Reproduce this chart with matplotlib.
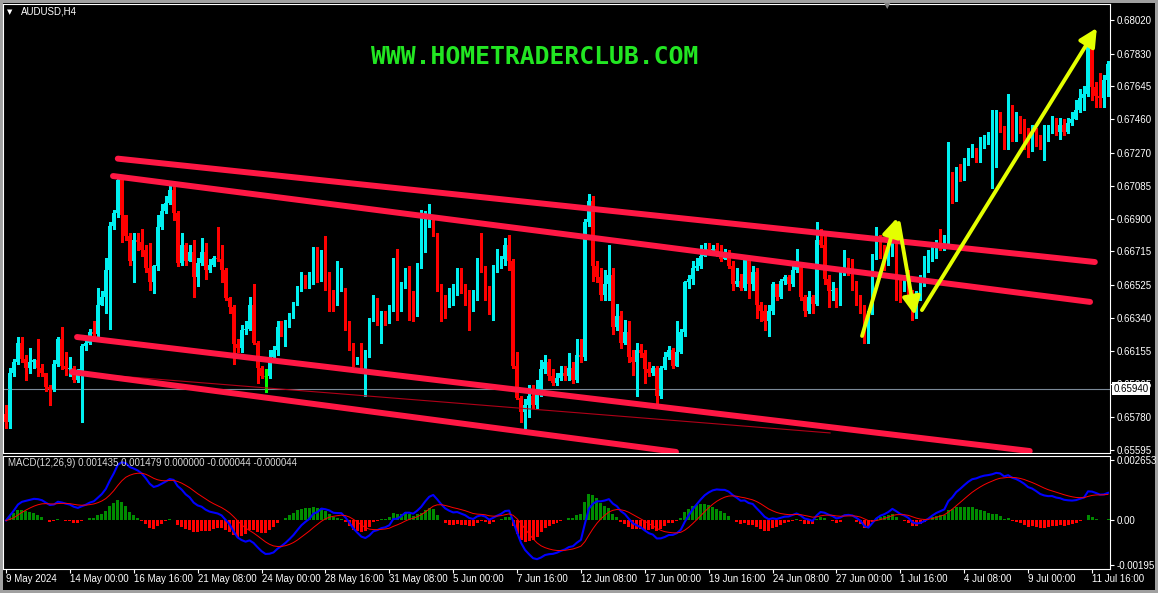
import matplotlib
matplotlib.use("Agg")
from matplotlib import pyplot as plt
from matplotlib.patches import Rectangle
from matplotlib.transforms import blended_transform_factory
import numpy as np

plt.rcParams['font.family'] = ['Liberation Sans', 'DejaVu Sans']

# AUDUSD H4, 277 bars, open of each bar = previous close
first_open = 0.6580
close = [
    0.6575, 0.6603, 0.6609, 0.6620, 0.6611, 0.6606, 0.6609, 0.6610, 0.6606, 0.6603,
    0.6595, 0.6594, 0.6608, 0.6622, 0.6607, 0.6605, 0.6606, 0.6599, 0.6603, 0.6618,
    0.6620, 0.6626, 0.6625, 0.6641, 0.6646, 0.6661, 0.6686, 0.6693, 0.6712, 0.6692,
    0.6680, 0.6666, 0.6678, 0.6677, 0.6672, 0.6662, 0.6654, 0.6663, 0.6685, 0.6694,
    0.6699, 0.6706, 0.6693, 0.6665, 0.6675, 0.6666, 0.6671, 0.6657, 0.6665, 0.6671,
    0.6661, 0.6664, 0.6668, 0.6667, 0.6661, 0.6645, 0.6640, 0.6619, 0.6617, 0.6627,
    0.6628, 0.6641, 0.6620, 0.6606, 0.6601, 0.6601, 0.6612, 0.6616, 0.6629, 0.6626,
    0.6630, 0.6636, 0.6641, 0.6650, 0.6654, 0.6652, 0.6654, 0.6669, 0.6656, 0.6669,
    0.6651, 0.6648, 0.6641, 0.6650, 0.6651, 0.6629, 0.6618, 0.6609, 0.6610, 0.6606,
    0.6614, 0.6633, 0.6644, 0.6632, 0.6637, 0.6633, 0.6640, 0.6665, 0.6640, 0.6653,
    0.6661, 0.6647, 0.6642, 0.6663, 0.6672, 0.6686, 0.6689, 0.6681, 0.6650, 0.6644,
    0.6643, 0.6649, 0.6650, 0.6660, 0.6650, 0.6649, 0.6641, 0.6647, 0.6666, 0.6661,
    0.6650, 0.6638, 0.6662, 0.6666, 0.6667, 0.6675, 0.6666, 0.6607, 0.6589, 0.6581,
    0.6585, 0.6590, 0.6585, 0.6594, 0.6605, 0.6609, 0.6601, 0.6597, 0.6600, 0.6603,
    0.6601, 0.6606, 0.6599, 0.6613, 0.6612, 0.6688, 0.6700, 0.6663, 0.6657, 0.6647,
    0.6653, 0.6658, 0.6629, 0.6635, 0.6620, 0.6626, 0.6612, 0.6609, 0.6616, 0.6614,
    0.6605, 0.6603, 0.6606, 0.6590, 0.6606, 0.6612, 0.6616, 0.6607, 0.6615, 0.6626,
    0.6654, 0.6656, 0.6662, 0.6663, 0.6669, 0.6673, 0.6672, 0.6673, 0.6671, 0.6667,
    0.6670, 0.6663, 0.6653, 0.6655, 0.6651, 0.6667, 0.6653, 0.6660, 0.6641, 0.6638,
    0.6632, 0.6638, 0.6653, 0.6646, 0.6655, 0.6657, 0.6653, 0.6661, 0.6663, 0.6646,
    0.6638, 0.6646, 0.6642, 0.6678, 0.6675, 0.6656, 0.6649, 0.6650, 0.6643, 0.6659,
    0.6667, 0.6660, 0.6655, 0.6645, 0.6640, 0.6623, 0.6637, 0.6668, 0.6674, 0.6669,
    0.6666, 0.6672, 0.6680, 0.6654, 0.6650, 0.6654, 0.6648, 0.6634, 0.6646, 0.6654,
    0.6662, 0.6667, 0.6674, 0.6675, 0.6674, 0.6677, 0.6715, 0.6702, 0.6716, 0.6713,
    0.6721, 0.6726, 0.6728, 0.6724, 0.6732, 0.6734, 0.6735, 0.6740, 0.6747, 0.6741,
    0.6730, 0.6752, 0.6736, 0.6742, 0.6739, 0.6736, 0.6731, 0.6740, 0.6734, 0.6731,
    0.6737, 0.6741, 0.6746, 0.6739, 0.6743, 0.6739, 0.6744, 0.6746, 0.6751, 0.6758,
    0.6760, 0.6790, 0.6764, 0.6759, 0.6758, 0.6768, 0.6777,
]
high = [
    0.6585, 0.6606, 0.6611, 0.6623, 0.6623, 0.6613, 0.6617, 0.6611, 0.6622, 0.6608,
    0.6603, 0.6596, 0.6610, 0.6623, 0.6629, 0.6615, 0.6612, 0.6607, 0.6605, 0.6619,
    0.6623, 0.6628, 0.6632, 0.6651, 0.6649, 0.6668, 0.6688, 0.6695, 0.6714, 0.6713,
    0.6689, 0.6682, 0.6682, 0.6682, 0.6684, 0.6675, 0.6676, 0.6664, 0.6692, 0.6698,
    0.6703, 0.6709, 0.6709, 0.6694, 0.6682, 0.6676, 0.6675, 0.6678, 0.6668, 0.6679,
    0.6676, 0.6667, 0.6669, 0.6685, 0.6675, 0.6662, 0.6646, 0.6641, 0.6622, 0.6630,
    0.6632, 0.6646, 0.6653, 0.6621, 0.6607, 0.6605, 0.6616, 0.6618, 0.6632, 0.6632,
    0.6633, 0.6637, 0.6643, 0.6652, 0.6660, 0.6658, 0.6660, 0.6674, 0.6674, 0.6672,
    0.6680, 0.6660, 0.6650, 0.6666, 0.6662, 0.6651, 0.6632, 0.6620, 0.6612, 0.6620,
    0.6616, 0.6634, 0.6647, 0.6645, 0.6638, 0.6638, 0.6641, 0.6668, 0.6673, 0.6654,
    0.6662, 0.6663, 0.6649, 0.6665, 0.6695, 0.6694, 0.6698, 0.6690, 0.6682, 0.6653,
    0.6647, 0.6651, 0.6653, 0.6662, 0.6662, 0.6653, 0.6650, 0.6650, 0.6668, 0.6682,
    0.6663, 0.6652, 0.6664, 0.6673, 0.6669, 0.6679, 0.6681, 0.6667, 0.6615, 0.6590,
    0.6588, 0.6596, 0.6596, 0.6599, 0.6610, 0.6613, 0.6611, 0.6605, 0.6603, 0.6607,
    0.6607, 0.6614, 0.6609, 0.6622, 0.6622, 0.6690, 0.6704, 0.6703, 0.6666, 0.6662,
    0.6661, 0.6675, 0.6662, 0.6642, 0.6638, 0.6633, 0.6632, 0.6616, 0.6620, 0.6619,
    0.6616, 0.6609, 0.6607, 0.6607, 0.6607, 0.6615, 0.6618, 0.6617, 0.6632, 0.6628,
    0.6655, 0.6658, 0.6666, 0.6668, 0.6675, 0.6676, 0.6676, 0.6675, 0.6676, 0.6675,
    0.6673, 0.6672, 0.6666, 0.6662, 0.6659, 0.6668, 0.6668, 0.6663, 0.6662, 0.6643,
    0.6641, 0.6641, 0.6654, 0.6653, 0.6656, 0.6658, 0.6658, 0.6663, 0.6673, 0.6664,
    0.6647, 0.6649, 0.6647, 0.6688, 0.6684, 0.6681, 0.6658, 0.6654, 0.6651, 0.6661,
    0.6672, 0.6668, 0.6667, 0.6653, 0.6647, 0.6641, 0.6638, 0.6670, 0.6685, 0.6681,
    0.6675, 0.6679, 0.6684, 0.6682, 0.6658, 0.6658, 0.6661, 0.6650, 0.6649, 0.6658,
    0.6669, 0.6672, 0.6677, 0.6678, 0.6684, 0.6681, 0.6733, 0.6716, 0.6719, 0.6721,
    0.6724, 0.6730, 0.6732, 0.6730, 0.6736, 0.6737, 0.6739, 0.6751, 0.6751, 0.6750,
    0.6742, 0.6760, 0.6754, 0.6750, 0.6748, 0.6746, 0.6741, 0.6743, 0.6741, 0.6737,
    0.6743, 0.6743, 0.6748, 0.6747, 0.6747, 0.6746, 0.6747, 0.6750, 0.6757, 0.6763,
    0.6765, 0.6794, 0.6791, 0.6767, 0.6772, 0.6771, 0.6779,
]
low = [
    0.6572, 0.6572, 0.6601, 0.6608, 0.6609, 0.6599, 0.6603, 0.6606, 0.6601, 0.6601,
    0.6593, 0.6585, 0.6593, 0.6607, 0.6605, 0.6602, 0.6601, 0.6598, 0.6598, 0.6575,
    0.6616, 0.6619, 0.6622, 0.6624, 0.6641, 0.6637, 0.6628, 0.6684, 0.6691, 0.6677,
    0.6678, 0.6664, 0.6654, 0.6672, 0.6669, 0.6660, 0.6650, 0.6648, 0.6661, 0.6684,
    0.6693, 0.6698, 0.6689, 0.6663, 0.6664, 0.6664, 0.6666, 0.6646, 0.6652, 0.6664,
    0.6656, 0.6660, 0.6663, 0.6666, 0.6654, 0.6644, 0.6637, 0.6608, 0.6615, 0.6615,
    0.6625, 0.6627, 0.6619, 0.6597, 0.6600, 0.6592, 0.6600, 0.6610, 0.6613, 0.6624,
    0.6618, 0.6629, 0.6634, 0.6641, 0.6649, 0.6651, 0.6651, 0.6653, 0.6654, 0.6655,
    0.6650, 0.6638, 0.6638, 0.6641, 0.6649, 0.6627, 0.6616, 0.6607, 0.6608, 0.6605,
    0.6590, 0.6612, 0.6632, 0.6630, 0.6620, 0.6630, 0.6631, 0.6638, 0.6633, 0.6638,
    0.6651, 0.6633, 0.6632, 0.6635, 0.6662, 0.6671, 0.6685, 0.6680, 0.6649, 0.6632,
    0.6634, 0.6640, 0.6641, 0.6647, 0.6648, 0.6641, 0.6627, 0.6638, 0.6644, 0.6660,
    0.6644, 0.6636, 0.6633, 0.6660, 0.6662, 0.6664, 0.6661, 0.6606, 0.6588, 0.6575,
    0.6572, 0.6578, 0.6583, 0.6583, 0.6590, 0.6603, 0.6599, 0.6596, 0.6596, 0.6599,
    0.6599, 0.6599, 0.6597, 0.6598, 0.6609, 0.6610, 0.6686, 0.6655, 0.6654, 0.6644,
    0.6644, 0.6644, 0.6625, 0.6627, 0.6617, 0.6619, 0.6609, 0.6602, 0.6590, 0.6612,
    0.6597, 0.6601, 0.6602, 0.6586, 0.6589, 0.6605, 0.6611, 0.6606, 0.6607, 0.6614,
    0.6624, 0.6651, 0.6653, 0.6661, 0.6662, 0.6669, 0.6670, 0.6671, 0.6669, 0.6666,
    0.6667, 0.6662, 0.6650, 0.6652, 0.6650, 0.6650, 0.6645, 0.6650, 0.6634, 0.6632,
    0.6627, 0.6624, 0.6636, 0.6644, 0.6645, 0.6653, 0.6650, 0.6652, 0.6660, 0.6644,
    0.6635, 0.6637, 0.6637, 0.6641, 0.6674, 0.6653, 0.6640, 0.6644, 0.6640, 0.6641,
    0.6658, 0.6658, 0.6650, 0.6641, 0.6637, 0.6620, 0.6620, 0.6636, 0.6667, 0.6668,
    0.6661, 0.6664, 0.6669, 0.6644, 0.6643, 0.6649, 0.6644, 0.6633, 0.6634, 0.6644,
    0.6652, 0.6660, 0.6666, 0.6668, 0.6672, 0.6672, 0.6676, 0.6699, 0.6700, 0.6711,
    0.6712, 0.6720, 0.6725, 0.6722, 0.6722, 0.6730, 0.6732, 0.6707, 0.6719, 0.6739,
    0.6729, 0.6729, 0.6734, 0.6734, 0.6738, 0.6729, 0.6725, 0.6728, 0.6731, 0.6729,
    0.6723, 0.6734, 0.6738, 0.6737, 0.6735, 0.6737, 0.6738, 0.6743, 0.6747, 0.6750,
    0.6751, 0.6759, 0.6757, 0.6753, 0.6753, 0.6753, 0.6759,
]

date_bars = [0, 16, 32, 48, 64, 80, 96, 112, 128, 144, 160, 176, 192, 208, 224, 240, 256, 272]
date_labels = ["9 May 2024", "14 May 00:00", "16 May 16:00", "21 May 08:00", "24 May 00:00",
               "28 May 16:00", "31 May 08:00", "5 Jun 00:00", "7 Jun 16:00", "12 Jun 08:00",
               "17 Jun 00:00", "19 Jun 16:00", "24 Jun 08:00", "27 Jun 00:00", "1 Jul 16:00",
               "4 Jul 08:00", "9 Jul 00:00", "11 Jul 16:00"]
price_ticks = [0.68020, 0.67830, 0.67645, 0.67460, 0.67270, 0.67085, 0.66900,
               0.66715, 0.66525, 0.66340, 0.66155, 0.65965, 0.65780, 0.65595]
macd_ticks = [0.002653, 0.0, -0.00195]
macd_tick_labels = ["0.002653", "0.00", "-0.00195"]
hline_price = 0.65940

# trend lines drawn on the chart: (bar, price) -> (bar, price)
channel_lines = [
    ((28.0, 0.67238), (272.7, 0.66655)),
    ((26.8, 0.67140), (271.5, 0.66430)),
    ((17.8, 0.66232), (256.4, 0.65589)),
    ((16.5, 0.66035), (167.8, 0.65584)),
]
thin_line = ((18.5, 0.66029), (206.4, 0.65691))
arrows = [
    ((214.4, 0.66238), (223.1, 0.66903)),
    ((223.6, 0.66875), (227.6, 0.66356)),
    ((229.4, 0.66384), (273.2, 0.67975)),
]

bull = '#00f0f0'
bear = '#ff0000'
line_red = '#ff1744'
yellow = '#e4ff00'

W, H = 1158, 593
fig = plt.figure(figsize=(W / 100, H / 100), dpi=100, facecolor='#a0a0a0')
fig.add_artist(Rectangle((3 / W, 3 / H), (W - 6) / W, (H - 6) / H, transform=fig.transFigure,
                         facecolor='black', edgecolor='none', zorder=-10))

ax = fig.add_axes([3 / W, 1 - 453 / H, 1107 / W, 449 / H])
ax2 = fig.add_axes([3 / W, 1 - 569 / H, 1107 / W, 113 / H])

close = np.array(close)
high = np.array(high)
low = np.array(low)
open_ = np.concatenate([[first_open], close[:-1]])
high = np.maximum(high, np.maximum(open_, close))
low = np.minimum(low, np.minimum(open_, close))
x = np.arange(len(close))
up = close > open_
dn = close < open_
eq = close == open_

ax.vlines(x[up], low[up], high[up], color=bull, lw=0.8, antialiased=False)
ax.vlines(x[dn], low[dn], high[dn], color=bear, lw=0.8, antialiased=False)
ax.vlines(x[eq], low[eq], high[eq], color='#00ff00', lw=0.8, antialiased=False)
ax.bar(x[up], close[up] - open_[up], bottom=open_[up], width=0.8, color=bull, linewidth=0, antialiased=False)
ax.bar(x[dn], open_[dn] - close[dn], bottom=close[dn], width=0.8, color=bear, linewidth=0, antialiased=False)
ax.hlines(close[eq], x[eq] - 0.4, x[eq] + 0.4, color='#00ff00', lw=0.8)

ax.axhline(hline_price, color='#7c8a99', lw=0.8, zorder=1)
for (x0, y0), (x1, y1) in channel_lines:
    ax.plot([x0, x1], [y0, y1], color=line_red, lw=4.3, solid_capstyle='round', zorder=3)
ax.plot([thin_line[0][0], thin_line[1][0]], [thin_line[0][1], thin_line[1][1]],
        color='#b00018', lw=0.8, zorder=2)
for tail, tip in arrows:
    ax.annotate('', xy=tip, xytext=tail,
                arrowprops=dict(arrowstyle='-|>,head_length=0.9,head_width=0.45', color=yellow,
                                lw=2.8, shrinkA=0, shrinkB=0, mutation_scale=12), zorder=4)

ax.set_xlim(-0.75, 276.5)
ax.set_ylim(0.655779, 0.681102)
ax.set_facecolor('black')
ax.yaxis.tick_right()
ax.set_yticks(price_ticks)
ax.set_yticklabels(['%.5f' % p for p in price_ticks])
ax.tick_params(axis='y', colors='white', labelsize=7, length=3, direction='out', pad=2, width=0.8)
ax.set_xticks([])
for s in ax.spines.values():
    s.set_color('white')
    s.set_linewidth(0.8)

trans = blended_transform_factory(ax.transAxes, ax.transData)
ax.text(1.0035, hline_price, '0.65940', transform=trans, ha='left', va='center', fontsize=7,
        color='black', clip_on=False, zorder=10,
        bbox=dict(facecolor='white', edgecolor='none', boxstyle='square,pad=0.15'))

# MACD(12,26,9)
def ema(v, n):
    a = 2.0 / (n + 1)
    out = np.empty_like(v)
    out[0] = v[0]
    for i in range(1, len(v)):
        out[i] = a * v[i] + (1 - a) * out[i - 1]
    return out

macd = ema(close, 12) - ema(close, 26)
signal = ema(macd, 9)
hist = macd - signal
pos = hist > 0
ax2.bar(x[pos], hist[pos], width=0.75, color='#008c00', linewidth=0, antialiased=False)
ax2.bar(x[~pos], hist[~pos], width=0.75, color='#ff0000', linewidth=0, antialiased=False)
ax2.plot(x, macd, color='#0000ff', lw=1.5)
ax2.plot(x, signal, color='#ff0000', lw=0.7)

ax2.set_xlim(-0.75, 276.5)
ax2.set_ylim(-0.00213, 0.00283)
ax2.set_facecolor('black')
ax2.yaxis.tick_right()
ax2.set_yticks(macd_ticks)
ax2.set_yticklabels(macd_tick_labels)
ax2.tick_params(axis='y', colors='white', labelsize=7, length=3, direction='out', pad=2, width=0.8)
ax2.set_xticks(date_bars)
ax2.set_xticklabels(date_labels)
for lbl in ax2.get_xticklabels():
    lbl.set_horizontalalignment('left')
ax2.tick_params(axis='x', colors='white', labelsize=7, length=3, direction='out', pad=0.5, width=0.8)
for s in ax2.spines.values():
    s.set_color('white')
    s.set_linewidth(0.8)

fig.text(10 / W, 1 - 12 / H, '\u25bc', color='white', fontsize=5, ha='center', va='center',
         family=['DejaVu Sans'])
fig.text(21 / W, 1 - 12 / H, 'AUDUSD,H4', color='white', fontsize=7, va='center')
fig.text(887 / W, 1 - 6 / H, '\u25bc', color='#808080', fontsize=6, ha='center', va='center',
         family=['DejaVu Sans'])
fig.text(535 / W, 1 - 57 / H, 'WWW.HOMETRADERCLUB.COM', color='#22e622', fontsize=17.8,
         family=['DejaVu Sans Mono'], weight='bold', ha='center', va='center')
fig.text(8 / W, 1 - 463 / H, 'MACD(12,26,9) 0.001435 0.001479 0.000000 -0.000044 -0.000044',
         color='#d8d8d8', fontsize=7, va='center')

fig.savefig('out.png', dpi=100, facecolor=fig.get_facecolor())
